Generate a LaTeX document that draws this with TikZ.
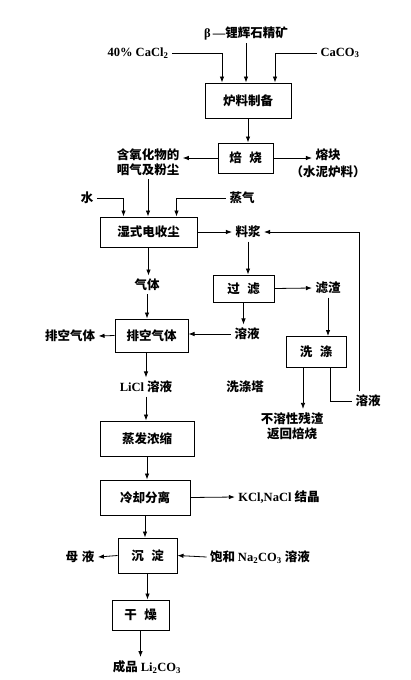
\documentclass[tikz,border=0pt]{standalone}
\usepackage{fontspec}
\setmainfont{Liberation Serif}
\newfontfamily\cjk{Noto Sans CJK SC}
\usetikzlibrary{arrows.meta}

\begin{document}
\begin{tikzpicture}[x=1pt,y=-1pt,
  every node/.style={font=\fontsize{12.5}{15}\selectfont\bfseries},
  cn/.style={font=\fontsize{12.5}{15}\selectfont\cjk\bfseries},
  box/.style={draw, line width=1pt, minimum height=30pt, inner sep=2pt, cn},
  arr/.style={-{Latex[length=6pt,width=4.5pt]}, line width=0.8pt},
  line/.style={line width=0.8pt}]

\useasboundingbox (0,0) rectangle (411,680);

\node (ore) at (246,33) {β\,—\cjk 锂辉石精矿};
\node (cacl) at (138,53) {40\% CaCl\textsubscript{2}};
\node (caco) at (340,53) {CaCO\textsubscript{3}};
\node[box, minimum width=86pt, minimum height=35pt] (prep) at (248,100.5) {炉料制备};
\node[box, minimum width=55pt] (roast) at (245.5,158) {焙\hspace{0.6em}烧};
\node[cn, align=center] (fume) at (148,162) {含氧化物的\\咽气及粉尘};
\node[cn] (clinker) at (328,155) {熔块};
\node[cn] (clinker2) at (328,172) {（水泥炉料）};

\node[cn] (water) at (87,198) {水};
\node[cn] (steam) at (242,198) {蒸气};
\node[box, minimum width=97pt] (esp) at (148.5,232) {湿式电收尘};
\node[cn] (slurry) at (248,232) {料浆};
\node[cn] (gas) at (147,285) {气体};
\node[box, minimum width=73pt, minimum height=33pt] (vent) at (151.5,335.5) {排空气体};
\node[cn] (ventout) at (70,336) {排空气体};
\node[box, minimum width=61pt, minimum height=27pt] (filter) at (243.5,288.5) {过\hspace{0.6em}滤};
\node[cn] (residue) at (328,288) {滤渣};
\node[cn] (filtrate) at (247,334) {溶液};
\node[box, minimum width=60pt, minimum height=31pt] (wash) at (316,352) {洗\hspace{0.6em}涤};
\node[cn] (tower) at (245,387) {洗涤塔};
\node[cn, align=center] (insol) at (292,426) {不溶性残渣\\返回焙烧};
\node[cn] (washsol) at (368,401) {溶液};
\node (licl) at (146,387) {LiCl \cjk 溶液};

\node[box, minimum width=94pt, minimum height=35pt] (evap) at (147,438.5) {蒸发浓缩};
\node[box, minimum width=90pt, minimum height=35pt] (cool) at (145,497.5) {冷却分离};
\node (salt) at (279,497) {KCl,NaCl \cjk 结晶};
\node[box, minimum width=59pt, minimum height=35pt] (precip) at (147.5,555.5) {沉\hspace{0.6em}淀};
\node[cn] (mother) at (80,557) {母\hspace{0.3em}液};
\node (soda) at (260,557) {\cjk 饱和 \rmfamily Na\textsubscript{2}CO\textsubscript{3} \cjk 溶液};
\node[box, minimum width=57pt] (dry) at (140.5,615) {干\hspace{0.6em}燥};
\node (product) at (147,667) {\cjk 成品 \rmfamily Li\textsubscript{2}CO\textsubscript{3}};

\draw[arr] (ore.south) -- (ore.south |- prep.north);
\draw[arr] (cacl.east) -| ([xshift=-26pt]prep.north);
\draw[arr] (caco.west) -| ([xshift=27pt]prep.north);
\draw[arr] (prep.south) -- (prep.south |- roast.north);
\draw[arr] (roast.west) -- (roast.west -| fume.east);
\draw[arr] (roast.east) -- (roast.east -| clinker.west);
\draw[arr] (fume.south) -- (fume.south |- esp.north);
\draw[arr] (water.east) -| ([xshift=-25pt]esp.north);
\draw[arr] (steam.west) -| ([xshift=28pt]esp.north);
\draw[arr] (esp.east) -- (slurry.west);
\draw[arr] (esp.south) -- (esp.south |- gas.north);
\draw[arr] (gas.south) -- (gas.south |- vent.north);
\draw[arr] (vent.west) -- (ventout.east);
\draw[arr] (filtrate.west) -- (filtrate.west -| vent.east);
\draw[arr] (slurry.south) -- (slurry.south |- filter.north);
\draw[arr] (filter.east) -- (residue.west);
\draw[arr] (filter.south) -- (filter.south |- filtrate.north);
\draw[arr] (residue.south) -- (residue.south |- wash.north);
\draw[arr] ([xshift=-13pt]wash.south) -- ([xshift=-13pt]wash.south |- insol.north);
\draw[line] ([xshift=14pt]wash.south) |- (washsol.west);
\draw[arr] ([xshift=-9pt]washsol.north) |- (slurry.east);
\draw[arr] (licl.north |- vent.south) -- (licl.north);
\draw[arr] (licl.south) -- (licl.south |- evap.north);
\draw[arr] (evap.south) -- (evap.south |- cool.north);
\draw[arr] (cool.east) -- (salt.west);
\draw[arr] (cool.south) -- (cool.south |- precip.north);
\draw[arr] (precip.west) -- (mother.east);
\draw[arr] (soda.west) -- (precip.east);
\draw[arr] (precip.south) -- (precip.south |- dry.north);
\draw[arr] (dry.south) -- (dry.south |- product.north);
\end{tikzpicture}
\end{document}
